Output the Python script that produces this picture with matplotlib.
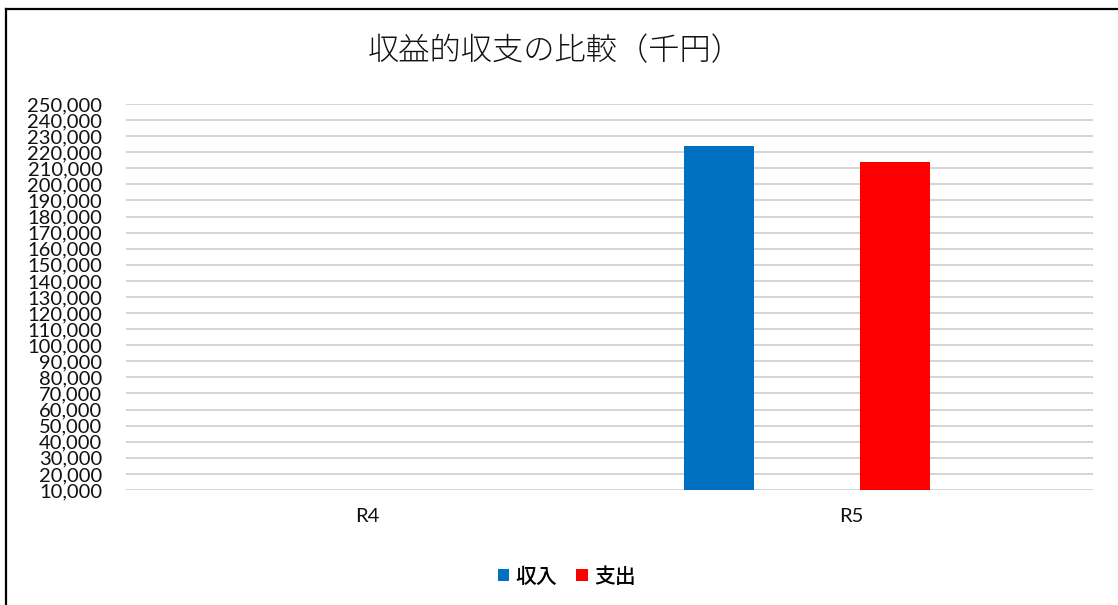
import matplotlib.pyplot as plt
from matplotlib.lines import Line2D
from matplotlib.ticker import MultipleLocator, FuncFormatter
import numpy as np

categories = ["R4", "R5"]
series_names = ["収入", "支出"]
revenue = [0, 224000]
expense = [0, 214000]
colors = ["#0070C0", "#FF0000"]

plt.rcParams["font.family"] = ["Lato", "Noto Sans CJK JP", "DejaVu Sans"]

fig = plt.figure(figsize=(11.18, 6.05), dpi=100)
ax = fig.add_axes([0.1127, 0.1901, 0.8649, 0.638])

x = np.arange(len(categories))
# Excel cluster with 4 slots; the visible series sit in slot 0 and slot 2
step = 0.1818
width = 0.1446
for slot, vals, name, col in zip([0, 2], [revenue, expense], series_names, colors):
    ax.bar(x + (slot - 1.5) * step, vals, width, color=col, label=name, zorder=3)

ax.set_xlim(-0.5, len(categories) - 0.5)
ax.set_ylim(10000, 250000)
ax.yaxis.set_major_locator(MultipleLocator(10000))
ax.yaxis.set_major_formatter(FuncFormatter(lambda v, p: f"{int(v):,}"))
ax.set_xticks(x, categories)
ax.grid(axis="y", color="#d4d4d4", linewidth=1.4, zorder=0)
ax.spines[["left", "top", "right", "bottom"]].set_visible(False)
ax.tick_params(axis="y", length=0, pad=17, labelsize=14.5, labelcolor="#111111")
ax.tick_params(axis="x", length=0, pad=13, labelsize=14.5, labelcolor="#111111")

fig.text(0.497, 0.915, "収益的収支の比較（千円）", ha="center", va="center",
         fontsize=22.5, fontfamily=["Noto Sans CJK JP"], fontweight="light", color="#111111")

fig.legend(loc="center", bbox_to_anchor=(0.507, 0.047), ncol=2, frameon=False,
           handlelength=0.55, handleheight=0.55, handletextpad=0.3,
           columnspacing=0.9, prop={"family": ["Noto Sans CJK JP"], "weight": "medium", "size": 15})

# chart area frame (only left and top edges visible)
fig.add_artist(Line2D([0.0055, 0.0055], [0, 0.985], transform=fig.transFigure, color="black", linewidth=1.6))
fig.add_artist(Line2D([0.0055, 1.0], [0.985, 0.985], transform=fig.transFigure, color="black", linewidth=1.6))

fig.savefig("out.png", dpi=100)
